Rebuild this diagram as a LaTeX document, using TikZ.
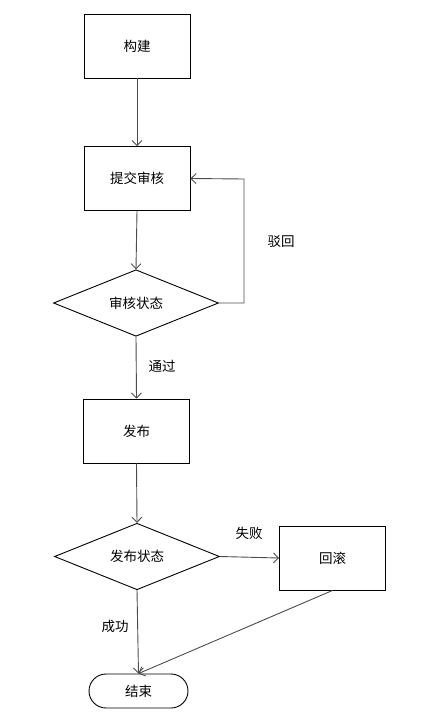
\documentclass[tikz,border=0pt]{standalone}
\usepackage{fontspec}
\setmainfont{Noto Sans CJK SC}
\usetikzlibrary{arrows.meta,shapes.geometric}
\definecolor{linec}{rgb}{0.3,0.3,0.3}
\tikzset{
  txt/.style={font=\fontsize{13.5pt}{15pt}\selectfont},
  box/.style={txt, draw=black, line width=0.9pt, minimum width=106pt, minimum height=64pt, inner sep=0pt},
  dia/.style={txt, draw=black, line width=0.9pt, diamond, minimum width=165pt, minimum height=66pt, inner sep=0pt},
  term/.style={txt, draw=black, line width=0.9pt, rounded corners=17pt, minimum width=99pt, minimum height=34pt, inner sep=0pt},
  conn/.style={draw=linec, line width=0.9pt, -{Straight Barb[length=5pt,width=10pt]}},
  lab/.style={txt, inner sep=0pt}
}
\begin{document}
\begin{tikzpicture}[x=1pt,y=-1pt]
\useasboundingbox (0,0) rectangle (423,720);
\node[box] (build) at (137,46) {构建};
\node[box] (submit) at (137,178.5) {提交审核};
\node[dia] (review) at (136,303) {审核状态};
\node[box] (publish) at (136.5,431) {发布};
\node[dia] (pstate) at (137,556.5) {发布状态};
\node[box] (rollback) at (332.5,558) {回滚};
\node[term] (end) at (138.5,691) {结束};
\coordinate (loop1) at (244,303);
\coordinate (loop2) at (244,179);
\node[lab] (reject) at (281,242) {驳回};
\node[lab] (pass) at (162,366) {通过};
\node[lab] (fail) at (249,533) {失败};
\node[lab] (succ) at (115,626) {成功};
\draw[conn] (build.south) -- (submit.north);
\draw[conn] (submit.south) -- (review.north);
\draw[conn] (review.east) -- (loop1) -- (loop2) -- (submit.east);
\draw[conn] (review.south) -- (publish.north);
\draw[conn] (publish.south) -- (pstate.north);
\draw[conn] (pstate.east) -- (rollback.west);
\draw[conn] (pstate.south) -- (end.north);
\draw[conn] (rollback.south) -- (end.north);
\end{tikzpicture}
\end{document}
